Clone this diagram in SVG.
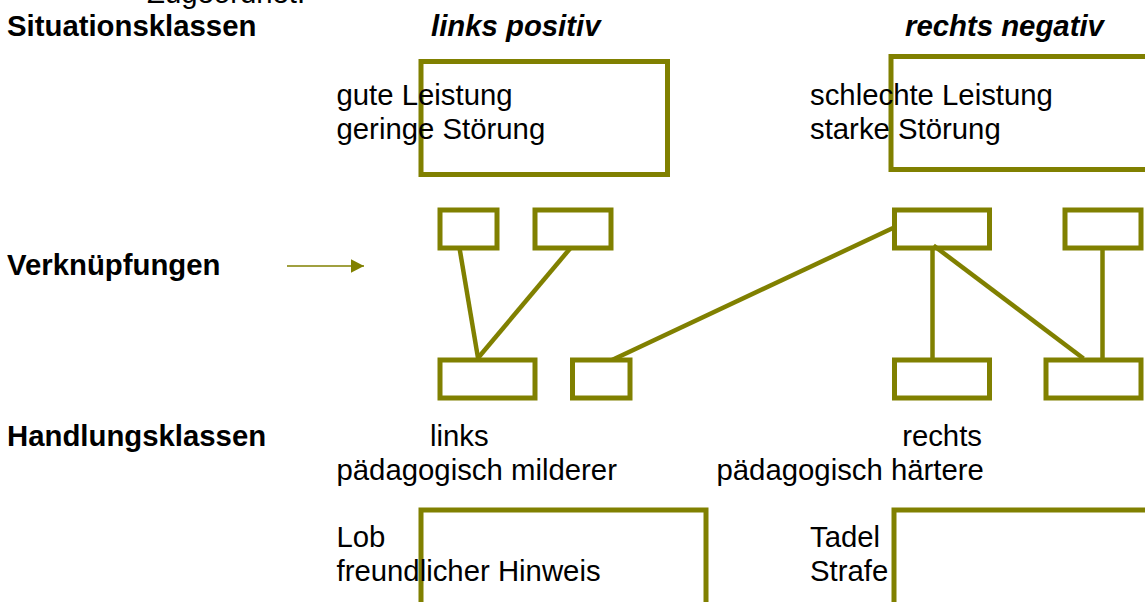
<svg xmlns="http://www.w3.org/2000/svg" width="1145" height="602" viewBox="0 0 1145 602">
<style>
.box{fill:none;stroke:#808000;stroke-width:5}
.ln{stroke:#808000;stroke-width:4.5;fill:none}
.t{font-family:"Liberation Sans",Arial,sans-serif;font-size:29.33px;fill:#000}
.b{font-weight:bold}
.bi{font-weight:bold;font-style:italic}
</style>
<defs>
<marker id="ah" viewBox="0 0 13 13.4" refX="13" refY="6.7" markerWidth="13" markerHeight="13.4" markerUnits="userSpaceOnUse" orient="auto">
<path d="M0,0 L13,6.7 L0,13.4 Z" fill="#808000"/>
</marker>
</defs>
<rect width="1145" height="602" fill="#fff"/>

<g id="situation-left"><rect class="box" x="421" y="61.5" width="246.5" height="113"/></g>
<g id="situation-right"><rect class="box" x="891" y="56.5" width="300" height="113"/></g>
<g id="action-left"><rect class="box" x="421" y="510" width="285" height="200"/></g>
<g id="action-right"><rect class="box" x="894" y="510" width="300" height="200"/></g>

<g id="s1"><rect class="box" x="440" y="210" width="57" height="38"/></g>
<g id="s2"><rect class="box" x="535" y="210" width="76" height="38"/></g>
<g id="s3"><rect class="box" x="894.5" y="210" width="95" height="38"/></g>
<g id="s4"><rect class="box" x="1065" y="210" width="76" height="38"/></g>
<g id="h1"><rect class="box" x="440" y="360" width="95" height="38"/></g>
<g id="h2"><rect class="box" x="572.5" y="360" width="57.5" height="38"/></g>
<g id="h3"><rect class="box" x="894.5" y="360" width="95" height="38"/></g>
<g id="h4"><rect class="box" x="1046" y="360" width="95" height="38"/></g>

<g id="connectors">
<line class="ln" x1="459.5" y1="248" x2="478" y2="358"/>
<line class="ln" x1="570.5" y1="248" x2="478" y2="358"/>
<line class="ln" x1="612" y1="360" x2="893" y2="228"/>
<line class="ln" x1="932.5" y1="248" x2="932.5" y2="360"/>
<line class="ln" x1="933.5" y1="245.5" x2="1083.5" y2="358.5"/>
<line class="ln" x1="1102.5" y1="248" x2="1102.5" y2="360"/>
<line x1="287" y1="266" x2="364" y2="266" stroke="#808000" stroke-width="1.6" marker-end="url(#ah)"/>
</g>

<g id="labels">
<text class="t" x="147" y="3">Zugeordnet:</text>
<text class="t b" x="7" y="36">Situationsklassen</text>
<text class="t bi" x="431" y="36">links positiv</text>
<text class="t bi" x="905" y="36">rechts negativ</text>
<text class="t" x="336.5" y="105">gute Leistung</text>
<text class="t" x="336.5" y="138.5">geringe Störung</text>
<text class="t" x="810" y="105">schlechte Leistung</text>
<text class="t" x="810" y="138.5">starke Störung</text>
<text class="t b" x="7" y="275">Verknüpfungen</text>
<text class="t b" x="7" y="446">Handlungsklassen</text>
<text class="t" x="430" y="446">links</text>
<text class="t" x="336.5" y="479.5">pädagogisch milderer</text>
<text class="t" x="982" y="446" text-anchor="end">rechts</text>
<text class="t" x="716.5" y="479.5">pädagogisch härtere</text>
<text class="t" x="336.5" y="547">Lob</text>
<text class="t" x="336.5" y="581">freundlicher Hinweis</text>
<text class="t" x="810" y="547">Tadel</text>
<text class="t" x="810" y="581">Strafe</text>
</g>
</svg>
